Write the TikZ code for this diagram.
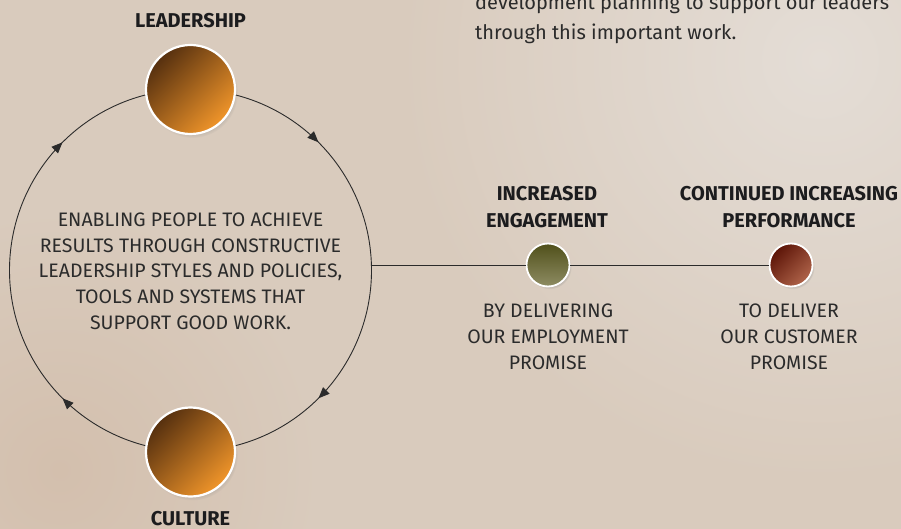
\documentclass[tikz,border=0pt]{standalone}
\usepackage{fontspec}
\setmainfont{Fira Sans}
\usetikzlibrary{arrows.meta,decorations.markings,shadows}

\definecolor{bgbase}{HTML}{D9CBBD}
\definecolor{bglight}{HTML}{E4DDD6}
\definecolor{bgwarm}{HTML}{D3BFAD}
\definecolor{ink}{HTML}{2B2B2B}
\definecolor{headink}{HTML}{1C1C1E}
\definecolor{ambdark}{HTML}{56300F}
\definecolor{amblight}{HTML}{F0952A}
\definecolor{olivedark}{HTML}{50501A}
\definecolor{olivelight}{HTML}{8E8C63}
\definecolor{rustdark}{HTML}{5C1407}
\definecolor{rustlight}{HTML}{B0644A}

\tikzset{
  x=1pt, y=-1pt,
  bigdot/.style={circle, draw=white, line width=2.2pt, minimum size=89pt, inner sep=0pt,
    top color=ambdark, bottom color=amblight, shading angle=45,
    circular drop shadow={shadow xshift=2pt, shadow yshift=-3pt, shadow scale=1.02, opacity=0.35}},
  smalldot/.style={circle, draw=white, line width=1.8pt, minimum size=43pt, inner sep=0pt,
    circular drop shadow={shadow xshift=1.5pt, shadow yshift=-2pt, shadow scale=1.03, opacity=0.35}},
  heading/.style={font=\fontsize{20}{27}\selectfont\bfseries, text=headink, align=center},
  bodytext/.style={font=\fontsize{19.5}{25.7}\selectfont, text=ink, align=center},
  paratext/.style={font=\fontsize{20}{29}\selectfont, text=ink, anchor=base west, inner sep=0pt},
  ringline/.style={draw=ink, line width=0.9pt},
  linkline/.style={draw=ink, line width=0.9pt},
  cyclearrow/.style={decoration={markings,
      mark=at position 0.125 with {\arrow{Triangle[length=11pt,width=9pt]}},
      mark=at position 0.375 with {\arrow{Triangle[length=11pt,width=9pt]}},
      mark=at position 0.625 with {\arrow{Triangle[length=11pt,width=9pt]}},
      mark=at position 0.875 with {\arrow{Triangle[length=11pt,width=9pt]}}},
    postaction={decorate}},
}

\begin{document}
\begin{tikzpicture}
  \useasboundingbox (0,0) rectangle (901,529);
  % paper background
  \begin{scope}
    \clip (0,0) rectangle (901,529);
    \fill[bgbase] (0,0) rectangle (901,529);
    \shade[inner color=bglight, outer color=bgbase] (820,60) circle (420);
    \shade[inner color=bgwarm, outer color=bgbase] (60,470) circle (260);
  \end{scope}

  % closing lines of the paragraph above
  \node[paratext] (para1) at (475,10) {development planning to support our leaders};
  \node[paratext] (para2) at (475,39.3) {through this important work.};

  % the cycle
  \coordinate (hub) at (190.5,270.5);
  \node[circle, minimum size=362pt, inner sep=0pt] (ring) at (hub) {};
  \draw[ringline, cyclearrow] (ring.north) arc[start angle=90, end angle=-270, radius=181pt];

  \node[bodytext] (core) at (190.5,271) {ENABLING PEOPLE TO ACHIEVE\\RESULTS THROUGH CONSTRUCTIVE\\LEADERSHIP STYLES AND POLICIES,\\TOOLS AND SYSTEMS THAT\\SUPPORT GOOD WORK.};

  % outcome chain
  \node[smalldot, top color=olivedark, bottom color=olivelight] (eng) at (548,265) {};
  \node[smalldot, top color=rustlight, bottom color=rustdark, shading angle=-135] (perf) at (791,265) {};
  \draw[linkline] (ring.east |- eng) -- (eng);
  \draw[linkline] (eng) -- (perf);

  \node[bigdot] (lead) at (190.5,89.5) {};
  \node[bigdot] (cult) at (190.5,452) {};

  % labels
  \node[heading, anchor=base] (leadlbl) at (190.5,27.5) {LEADERSHIP};
  \node[heading, anchor=base] (cultlbl) at (190.5,525.5) {CULTURE};
  \node[heading, anchor=base] (englbl) at (547,200.7) {INCREASED};
  \node[heading, anchor=base] (englbl2) at (547,227.3) {ENGAGEMENT};
  \node[heading, anchor=base] (perflbl) at (789,200.7) {CONTINUED INCREASING};
  \node[heading, anchor=base] (perflbl2) at (789,227.3) {PERFORMANCE};

  \node[bodytext, anchor=base] (engtxt1) at (548,317.7) {BY DELIVERING};
  \node[bodytext, anchor=base] (engtxt2) at (548,343.3) {OUR EMPLOYMENT};
  \node[bodytext, anchor=base] (engtxt3) at (548,369) {PROMISE};
  \node[bodytext, anchor=base] (perftxt1) at (789,317.7) {TO DELIVER};
  \node[bodytext, anchor=base] (perftxt2) at (789,343.3) {OUR CUSTOMER};
  \node[bodytext, anchor=base] (perftxt3) at (789,369) {PROMISE};
\end{tikzpicture}
\end{document}
